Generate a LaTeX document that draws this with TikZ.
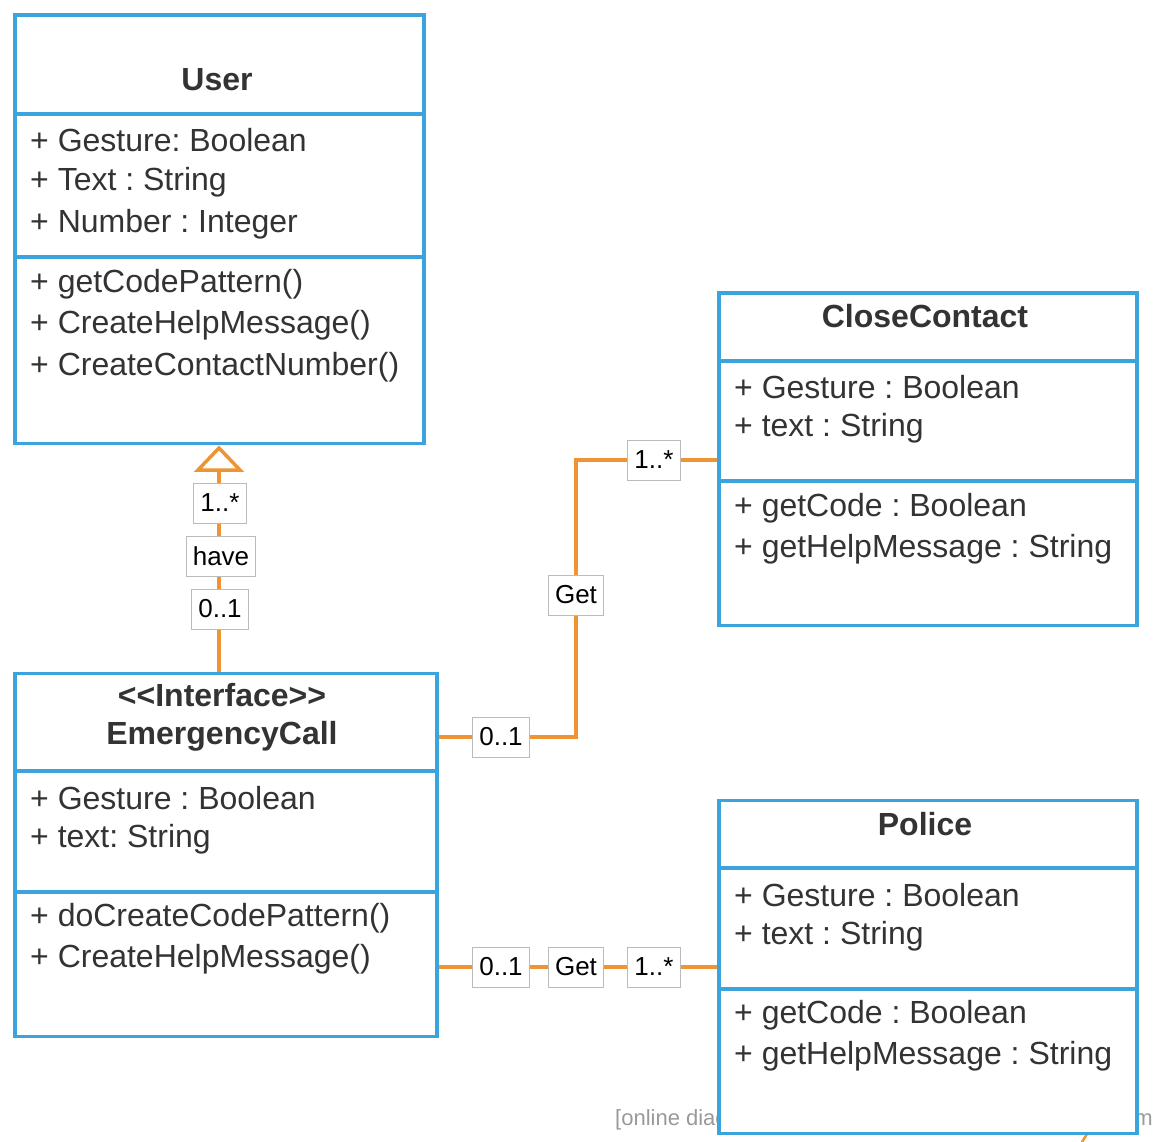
\documentclass[tikz,border=0pt]{standalone}
\usepackage{fontspec}
\setmainfont[Ligatures={TeXOff,NoCommon}]{Liberation Sans}
\usetikzlibrary{calc}
\definecolor{boxblue}{HTML}{3BA3DD}
\definecolor{conorange}{HTML}{EF9433}
\definecolor{txtgray}{HTML}{333333}
\definecolor{lblgray}{HTML}{BBBBBB}
\definecolor{wmgray}{HTML}{999999}
\tikzset{
  classbox/.style={draw=boxblue, line width=3.5pt, fill=white, anchor=north west, inner sep=0pt},
  divider/.style={draw=boxblue, line width=3.5pt},
  member/.style={anchor=west, text=txtgray, inner sep=0pt, font=\fontsize{32}{36}\selectfont},
  ctitle/.style={anchor=center, text=txtgray, inner sep=0pt, font=\fontsize{32}{36}\selectfont\bfseries, align=center},
  assoc/.style={draw=conorange, line width=3.5pt},
  mult/.style={draw=lblgray, line width=1pt, fill=white, text=black, minimum height=40pt, inner xsep=6.5pt, inner ysep=0pt, font=\fontsize{26}{28}\selectfont},
  wmark/.style={text=wmgray, inner sep=0pt, font=\fontsize{22}{26}\selectfont}
}
\frenchspacing
\begin{document}
\frenchspacing
\begin{tikzpicture}[x=1pt,y=-1pt]
\useasboundingbox (0,0) rectangle (1160,1142);

% watermark (mostly hidden behind Police box)
\node[wmark, anchor=west] (wm1) at (615,1120) {[online diagramming \& design]};
\node[wmark, anchor=east] (wm2) at (1153,1120) {creately.com};
\draw[conorange, line width=2.5pt] (1087,1134) -- (1082,1142);

% ---------- User ----------
\node[classbox, minimum width=409pt, minimum height=428pt] (user) at (13,13.5) {};
\draw[divider] (13,114) -- (422,114);
\draw[divider] (13,257) -- (422,257);
\node[ctitle] (usert) at (217,80) {User};
\node[member] (u1) at (30,140) {+ Gesture: Boolean};
\node[member] (u2) at (30,182) {+ Text : String};
\node[member] (u3) at (30,224) {+ Number : Integer};
\node[member] (u4) at (30,284) {+ getCodePattern()};
\node[member] (u5) at (30,325) {+ CreateHelpMessage()};
\node[member] (u6) at (30,367) {+ CreateContactNumber()};

% ---------- CloseContact ----------
\node[classbox, minimum width=418pt, minimum height=332pt] (cc) at (717,291.5) {};
\draw[divider] (717,361) -- (1135,361);
\draw[divider] (717,481) -- (1135,481);
\node[ctitle] (cct) at (925,316) {CloseContact};
\node[member] (c1) at (734,387) {+ Gesture : Boolean};
\node[member] (c2) at (734,428) {+ text : String};
\node[member] (c3) at (734,508) {+ getCode : Boolean};
\node[member] (c4) at (734,549) {+ getHelpMessage : String};

% ---------- EmergencyCall ----------
\node[classbox, minimum width=422pt, minimum height=363pt] (ec) at (13,671.5) {};
\draw[divider] (13,771) -- (435,771);
\draw[divider] (13,892) -- (435,892);
\node[ctitle] (ect) at (222,717) {<\kern0pt<Interface>\kern0pt>\\[2pt]EmergencyCall};
\node[member] (e1) at (30,798) {+ Gesture : Boolean};
\node[member] (e2) at (30,839) {+ text: String};
\node[member] (e3) at (30,918) {+ doCreateCodePattern()};
\node[member] (e4) at (30,959) {+ CreateHelpMessage()};

% ---------- Police ----------
\node[classbox, minimum width=418pt, minimum height=333pt] (po) at (717,798.5) {};
\draw[divider] (717,868) -- (1135,868);
\draw[divider] (717,989) -- (1135,989);
\node[ctitle] (pot) at (925,824) {Police};
\node[member] (p1) at (734,895) {+ Gesture : Boolean};
\node[member] (p2) at (734,936) {+ text : String};
\node[member] (p3) at (734,1015) {+ getCode : Boolean};
\node[member] (p4) at (734,1056) {+ getHelpMessage : String};

% ---------- connectors ----------
\coordinate (tip) at (219,448);
\draw[assoc] (ec.north -| tip) -- (219,470);
\draw[assoc, fill=white, line join=miter] (tip) -- (240,470) -- (198,470) -- cycle;

\draw[assoc] (ec.north east |- 0,737) -| (576,460) -- (cc.west |- 0,460);
\draw[assoc] (ec.north east |- 0,967) -- (po.west |- 0,967);

% ---------- multiplicity / role labels ----------
\node[mult] (l1) at (220,503) {1..*};
\node[mult] (l2) at (221,556) {have};
\node[mult] (l3) at (220,609) {0..1};

\node[mult] (l4) at (501,737) {0..1};
\node[mult] (l5) at (576,595) {Get};
\node[mult] (l6) at (654,460) {1..*};

\node[mult] (l7) at (501,967) {0..1};
\node[mult] (l8) at (576,967) {Get};
\node[mult] (l9) at (654,967) {1..*};
\end{tikzpicture}
\end{document}
